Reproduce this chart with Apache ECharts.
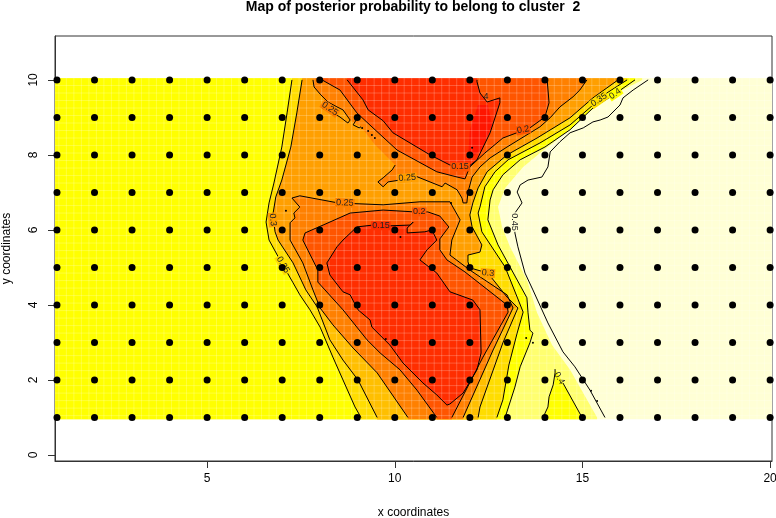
<!DOCTYPE html>
<html>
<head>
<meta charset="utf-8">
<script src="https://cdn.jsdelivr.net/npm/echarts@6/dist/echarts.min.js"></script>
<style>
  html, body { margin: 0; padding: 0; background: #fff; }
  #main { width: 776px; height: 518px; }
</style>
</head>
<body>
<div id="main"></div>
<script>
const xCoords = [1, 2, 3, 4, 5, 6, 7, 8, 9, 10, 11, 12, 13, 14, 15, 16, 17, 18, 19, 20];
const yCoords = [1, 2, 3, 4, 5, 6, 7, 8, 9, 10];
const xTicks = [5, 10, 15, 20];
const yTicks = [0, 2, 4, 6, 8, 10];

// contours, in data units
const left035 = [[7.26,10],[7.13,9.12],[6.99,8.21],[6.78,7.25],[6.65,6.72],[6.57,6.21],[6.65,5.73],[6.94,5.2],[7.29,4.59],[7.47,4.27],[7.74,3.87],[8.01,3.41],[8.35,2.61],[8.62,2],[8.94,1.28],[9.1,1]];
const left03 = [[7.53,10],[7.39,9.12],[7.23,8.21],[6.99,7.33],[6.83,6.88],[6.75,6.4],[6.81,5.95],[6.89,5.73],[7.29,5.12],[7.63,4.4],[7.93,3.95],[8.27,3.07],[8.62,2.53],[9.02,2],[9.53,1]];
const right03 = [[15.95,10],[15.28,9.52],[14.67,8.99],[13.79,8.45],[12.99,8],[12.46,7.55],[12.22,7.12],[12.08,6.72],[12,6.4],[12.06,6.08],[12.32,5.6],[12.27,5.41],[11.95,5.33],[11.95,5.15],[12,4.99],[12.48,4.85],[12.99,4.21],[13.28,3.92],[12.88,2.99],[12.27,1.28],[12.22,1]];
const right035 = [[16.19,10],[15.65,9.65],[14.67,8.8],[13.87,8.32],[13.02,7.87],[12.67,7.55],[12.4,7.15],[12.27,6.61],[12.22,6.45],[12.32,5.95],[12.94,5.01],[13.42,3.81],[13.26,3.25],[13.04,2.4],[12.88,1.47],[12.72,1]];
const right04 = [[16.4,10],[15.87,9.63],[15.28,9.25],[14.67,8.67],[14,8.21],[13.34,7.87],[12.88,7.47],[12.62,7.07],[12.54,6.8],[12.48,6.27],[12.75,5.6],[13.52,4.19],[13.55,3.79],[13.6,3.33],[13.68,3.25],[13.6,2.99],[13.34,2.35],[13.2,1.81],[12.94,1]];
const lobe04a = [[13.95,1],[14.08,1.28],[14.11,1.55],[14.22,1.87],[14.27,2.19],[14.27,2.29]];
const lobe04b = [[14.48,1.92],[14.99,1]];
const right045 = [[16.75,10],[16.35,9.73],[16.08,9.52],[16,9.33],[15.68,9.01],[15.47,8.93],[15.28,8.88],[15.02,8.72],[14.67,8.59],[14.4,8.35],[14.14,8.08],[14.08,7.68],[13.92,7.41],[13.55,7.33],[13.34,7.2],[13.26,7.01],[13.39,6.72],[13.2,6.45],[13.2,5.92],[13.28,5.55],[13.47,4.85],[13.68,4.4],[14.08,3.52],[14.48,2.75],[14.8,2.35],[15.2,1.73],[15.6,1]];
const paleEdge = [[16.59,10],[15.92,9.65],[15.39,9.28],[14.67,8.85],[14.32,8.4],[13.87,8.05],[13.42,7.68],[12.94,7.12],[12.75,6.61],[12.86,6.08],[13.07,5.55],[13.52,4.67],[13.79,3.79],[14.19,2.93],[14.67,2.27],[15.39,1]];
const lower025 = [[10.35,1],[9.53,2.19],[8.89,2.85],[8.35,3.47],[8.01,3.92],[7.82,4.4],[7.55,5.12],[7.21,5.73],[7.21,5.92],[7.21,6.19],[7.34,6.32],[7.31,6.45],[7.47,6.61],[7.26,6.85],[7.47,6.91],[8.49,6.72],[9.69,6.67],[10.67,6.75],[11.47,6.75],[11.74,6.27],[11.52,5.73],[11.47,5.33],[12,4.93],[12.99,4.27],[13.15,3.92],[12.62,2.8],[11.82,1]];
const lower02 = [[11.12,1],[10.59,1.73],[10.14,2.27],[9.61,2.72],[9.26,3.07],[8.62,3.87],[8.14,4.4],[7.95,4.61],[7.95,4.93],[7.55,5.73],[7.61,5.92],[8.09,6.13],[8.81,6.45],[9.69,6.53],[10.54,6.48],[10.88,6.48],[11.2,6.37],[11.44,6.08],[11.2,5.76],[11.2,5.47],[11.39,5.2],[11.87,4.88],[12.99,4],[13.02,3.81],[12.35,2.61],[11.52,1]];
const lower015 = [[8.62,5.73],[8.46,5.55],[8.19,5.12],[8.19,5.07],[8.27,4.8],[8.54,4.45],[8.62,4.35],[8.81,4.27],[9.02,3.87],[9.34,3.6],[9.39,3.41],[9.87,2.93],[10.22,2.45],[10.75,1.92],[11.12,1.6],[11.39,1.33],[11.47,1.36],[11.82,1.65],[12.19,2.27],[12.3,2.72],[12.27,3.87],[12.08,4.13],[11.47,4.35],[11.12,4.85],[10.67,5.2],[10.86,5.47],[11.12,5.73],[10.99,6],[10.8,5.95],[10.33,5.92],[10.33,6.05],[10.49,6.21],[10.41,6.13],[9.87,6.11],[9.42,6.13],[8.99,6.08],[8.62,5.73]];
const upper015 = [[8.73,10],[9.15,9.47],[9.29,9.2],[9.69,8.91],[9.95,8.59],[10.94,8],[11.47,7.73],[11.92,7.65],[12.19,7.87],[12.54,8.59],[12.8,9.39],[12.8,9.52],[12.46,9.41],[12.27,9.65],[12.19,9.95],[12.19,10]];
const upper02 = [[8.06,10],[8.54,9.73],[8.99,9.12],[9.42,8.72],[10.06,8.13],[11.12,7.55],[11.66,7.41],[11.87,7.36],[12,7.68],[12.4,8.05],[12.88,8.45],[13.6,8.72],[14,9.01],[14.11,9.39],[14.06,10]];
const upper025a = [[7.82,10],[7.85,9.81],[8.03,9.6],[8.22,9.41],[8.46,9.28],[8.62,9.2],[8.81,8.93],[8.75,8.85],[8.54,9.01],[8.35,9.12],[8.22,9.17],[8.06,9.25],[8.17,9.31]];
const upper025b = [[8.97,8.93],[8.89,8.8],[9.05,8.72],[9.1,8.75]];
const upper025c = [[10.01,7.73],[9.93,7.6],[9.69,7.39],[9.55,7.28],[9.69,7.15],[9.82,7.28],[10.14,7.33],[10.54,7.44],[11.26,7.15],[11.34,7.25],[11.66,7.07],[11.79,6.85],[11.82,6.72],[11.92,6.72],[11.95,7.01],[12.06,7.41],[12.27,7.68],[12.54,7.92],[12.99,8.21],[13.87,8.75],[14.14,8.99],[14.4,9.28],[14.75,9.55],[14.93,9.73],[15.12,10]];
const upper025Fill = [[7.82,10],[7.85,9.81],[8.03,9.6],[8.22,9.41],[8.46,9.28],[8.62,9.2],[8.81,8.93],[9.1,8.75],[9.47,8.27]];
const redCore = [[11.95,7.87],[12,8.67],[12.22,9.33],[12.48,9.33],[12.59,8.8],[12.32,8.13]];
// the paler lower flanks of the orange band
const leftFlank = [[7.63,4.4],[7.93,3.95],[8.27,3.07],[8.62,2.53],[9.02,2],[9.53,1],[9.53,0.95],[10.35,0.95],[10.35,1],[9.53,2.19],[8.89,2.85],[8.35,3.47],[8.01,3.92],[7.82,4.4]];
const rightFlank = [[13.28,3.92],[12.88,2.99],[12.27,1.28],[12.22,0.95],[11.82,0.95],[12.62,2.8],[13.15,3.92]];

const contours = [left035, left03, right03, right035, right04, lobe04a, lobe04b, right045, lower025, lower02, lower015, upper015, upper02, upper025a, upper025b, upper025c];

const labelTexts = ["0.35", "0.3", "0.25", "0.25", "0.25", "0.2", "0.15", "0.15", "4", "0.2", "0.35", "0.4", "0.45", "0.3", "0.4"];
const labelX = [7.02, 6.75, 8.27, 10.33, 8.67, 10.65, 9.63, 11.74, 12.43, 13.42, 15.44, 15.87, 13.2, 12.48, 14.38];
const labelY = [5.07, 6.27, 9.23, 7.39, 6.72, 6.48, 6.11, 7.68, 9.55, 8.67, 9.47, 9.63, 6.21, 4.85, 2.05];
const labelAngle = [-60, -85, -35, 5, -3, 0, 0, 0, 0, 10, 35, 35, -90, -5, -60];
const labelBg = ["#FFDD00", "#FF9F00", "#FF8000", "#FF9F00", "#FF8000", "#FF5500", "#FF2E00", "#FF5500", "", "#FF5500", "#FFDD00", "#FFFF00", "#FFFFD5", "#FF9F00", ""];

const speckX = [7.1, 11.5, 10.15, 12.06, 9.13, 9.29, 9.39, 9.47, 9.76, 13.5, 13.68, 15.23, 15.39];
const speckY = [6.51, 6.72, 5.81, 8.19, 8.72, 8.64, 8.53, 8.45, 3.09, 3.12, 2.99, 1.71, 1.44];

const imgX = [0.95, 20.05];
const imgY = [0.95, 10.05];

// stretch a contour's open ends out to the edge of the image
function toEdge(line) {
  const out = line.slice();
  if (out[0][1] === 10) out.unshift([out[0][0], imgY[1]]);
  else if (out[0][1] === 1) out.unshift([out[0][0], imgY[0]]);
  const last = out[out.length - 1];
  if (last[1] === 1) out.push([last[0], imgY[0]]);
  else if (last[1] === 10) out.push([last[0], imgY[1]]);
  return out;
}

const topLeft = [imgX[0], imgY[1]];
const topRight = [imgX[1], imgY[1]];
const botLeft = [imgX[0], imgY[0]];
const botRight = [imgX[1], imgY[0]];

const bands = [
  { color: "#FFFFD5", points: [topLeft, topRight, botRight, botLeft] },
  { color: "#FFFF70", points: [topLeft, ...toEdge(paleEdge), botLeft] },
  { color: "#FFFF00", points: [topLeft, ...toEdge(right04), botLeft] },
  { color: "#FFFF00", points: toEdge([...lobe04a, ...lobe04b]) },
  { color: "#FFDD00", points: [...toEdge(left035), ...toEdge(right035).reverse()] },
  { color: "#FF9F00", points: [...toEdge(left03), ...toEdge(right03).reverse()] },
  { color: "#FFBF00", points: leftFlank },
  { color: "#FFBF00", points: rightFlank },
  { color: "#FF8000", points: toEdge(lower025) },
  { color: "#FF5500", points: toEdge(lower02) },
  { color: "#FF2E00", points: lower015 },
  { color: "#FF8000", points: toEdge([...upper025Fill, ...upper025c]) },
  { color: "#FF5500", points: toEdge(upper02) },
  { color: "#FF2E00", points: toEdge(upper015) },
  { color: "#FF1500", points: redCore }
];

// faint seams between the image cells
const seamsX = [];
for (let i = 0; i <= 95; i++) seamsX.push(1.05 + i * 0.2);
const seamsY = [];
for (let i = 0; i <= 45; i++) seamsY.push(1.05 + i * 0.2);

const dots = [];
xCoords.forEach((x) => yCoords.forEach((y) => dots.push([x, y])));

const fontFamily = "'Liberation Sans', Arial, sans-serif";

const option = {
  animation: false,
  title: {
    text: "Map of posterior probability to belong to cluster  2",
    left: 413,
    top: 0,
    padding: 0,
    textAlign: "center",
    textStyle: { fontFamily: fontFamily, fontSize: 14, fontWeight: "bold", color: "#000" },
  },
  grid: { left: 55, right: 4, top: 36, bottom: 57, outerBoundsMode: "none", show: true, borderColor: "#333", borderWidth: 1, backgroundColor: "transparent" },
  xAxis: {
    type: "value",
    min: 0.947,
    max: 20.05,
    name: "x coordinates",
    nameLocation: "middle",
    nameGap: 46,
    nameTextStyle: { fontFamily: fontFamily, fontSize: 12, color: "#000" },
    splitLine: { show: false },
    axisLine: { show: true, onZero: false, lineStyle: { color: "#333" } },
    axisTick: { length: 7, customValues: xTicks, lineStyle: { color: "#333" } },
    axisLabel: { customValues: xTicks, margin: 12, fontFamily: fontFamily, fontSize: 12, color: "#000" },
  },
  yAxis: {
    type: "value",
    min: -0.16,
    max: 11.17,
    name: "y coordinates",
    nameLocation: "middle",
    nameGap: 42,
    nameTextStyle: { fontFamily: fontFamily, fontSize: 12, color: "#000" },
    splitLine: { show: false },
    axisLine: { show: true, onZero: false, lineStyle: { color: "#333" } },
    axisTick: { length: 7, customValues: yTicks, lineStyle: { color: "#333" } },
    axisLabel: { customValues: yTicks, rotate: 90, margin: 15, fontFamily: fontFamily, fontSize: 12, color: "#000" },
  },
  series: [
    {
      type: "custom",
      z: 1,
      silent: true,
      coordinateSystem: "cartesian2d",
      encode: { x: 0, y: 1 },
      data: bands.map((b, i) => [b.points[0][0], b.points[0][1], i]),
      renderItem(params, api) {
        const band = bands[api.value(2)];
        return {
          type: "polygon",
          shape: { points: band.points.map((p) => api.coord(p)) },
          style: { fill: band.color },
        };
      },
    },
    {
      type: "custom",
      z: 2,
      silent: true,
      coordinateSystem: "cartesian2d",
      encode: { x: 0, y: 1 },
      data: [...seamsX.map((x) => [x, imgY[0], x, imgY[1]]), ...seamsY.map((y) => [imgX[0], y, imgX[1], y])],
      renderItem(params, api) {
        const a = api.coord([api.value(0), api.value(1)]);
        const b = api.coord([api.value(2), api.value(3)]);
        return {
          type: "line",
          shape: { x1: a[0], y1: a[1], x2: b[0], y2: b[1] },
          style: { stroke: "rgba(255,255,255,0.22)", lineWidth: 1 },
        };
      },
    },
    ...contours.map((line) => ({
      type: "line",
      z: 3,
      silent: true,
      data: line,
      symbol: "none",
      lineStyle: { color: "#000", width: 1 },
    })),
    {
      type: "custom",
      z: 4,
      silent: true,
      coordinateSystem: "cartesian2d",
      encode: { x: 0, y: 1 },
      data: labelTexts.map((t, i) => [labelX[i], labelY[i], i]),
      renderItem(params, api) {
        const i = api.value(2);
        const p = api.coord([api.value(0), api.value(1)]);
        return {
          type: "text",
          x: p[0],
          y: p[1],
          rotation: (labelAngle[i] * Math.PI) / 180,
          style: {
            text: labelTexts[i],
            fontFamily: fontFamily,
            fontSize: 9,
            fill: "#222",
            align: "center",
            verticalAlign: "middle",
            backgroundColor: labelBg[i] || "transparent",
            padding: [0, 1],
          },
        };
      },
    },
    {
      type: "scatter",
      z: 4,
      silent: true,
      symbolSize: 2,
      itemStyle: { color: "#000", opacity: 1 },
      data: speckX.map((x, i) => [x, speckY[i]]),
    },
    {
      type: "scatter",
      z: 5,
      silent: true,
      symbolSize: 7,
      itemStyle: { color: "#000", opacity: 1 },
      data: dots,
    },
  ],
};

const chart = echarts.init(document.getElementById("main"), null, { renderer: "canvas" });
chart.setOption(option);
</script>
</body>
</html>
